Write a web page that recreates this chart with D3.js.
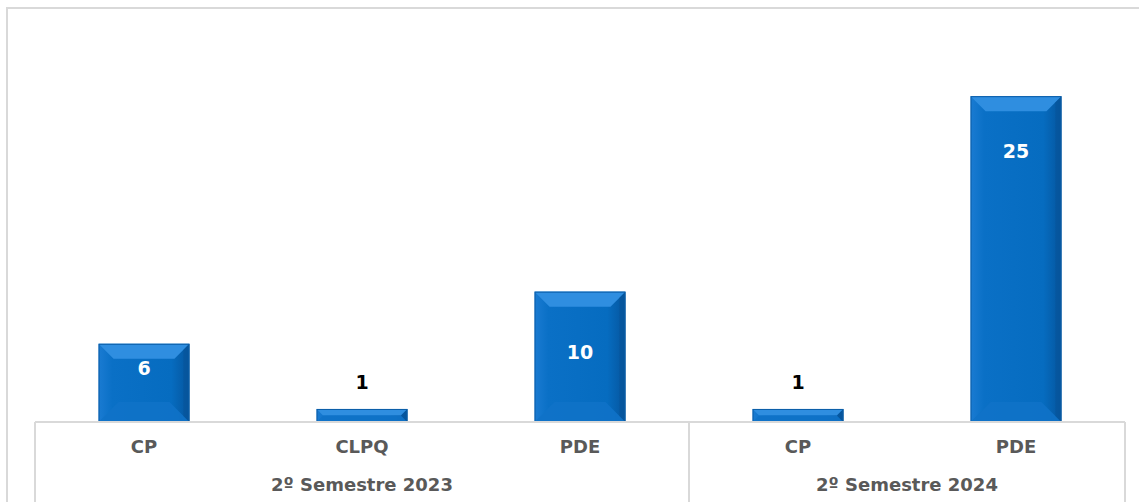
<!DOCTYPE html>
<html>
<head>
<meta charset="utf-8">
<script src="https://cdn.jsdelivr.net/npm/d3@7"></script>
<style>
  html, body { margin: 0; padding: 0; background: #fff; }
  svg { display: block; font-family: "DejaVu Sans", "Open Sans", sans-serif; }
</style>
</head>
<body>
<div id="chart"></div>
<script>
// data
var categories = ["CP", "CLPQ", "PDE", "CP", "PDE"];
var groups = ["2º Semestre 2023", "2º Semestre 2024"];
var values = [6, 1, 10, 1, 25];

var W = 1139, H = 502;
var axisY = 422, left = 35, right = 1125;

var svg = d3.select("#chart").append("svg")
    .attr("width", W)
    .attr("height", H);

var defs = svg.append("defs");
var grad = defs.append("linearGradient").attr("id", "face")
    .attr("x1", "0").attr("x2", "1").attr("y1", "0").attr("y2", "0");
grad.append("stop").attr("offset", "0").attr("stop-color", "#1a7bd2");
grad.append("stop").attr("offset", "0.15").attr("stop-color", "#0a70c6");
grad.append("stop").attr("offset", "0.8").attr("stop-color", "#066cc0");
grad.append("stop").attr("offset", "1").attr("stop-color", "#05559d");

// outer frame (top and left only)
svg.append("path")
    .attr("d", "M7," + H + "V8H" + W)
    .attr("fill", "none")
    .attr("stroke", "#d9d9d9")
    .attr("stroke-width", 2);

var idx = d3.range(categories.length);

var x = d3.scaleBand()
    .domain(idx)
    .range([left, right])
    .paddingInner(0.583)
    .paddingOuter(0.2915);

var y = d3.scaleLinear()
    .domain([0, 30])
    .range([axisY, 31]);

// bars with bevel
var bar = svg.selectAll(".bar")
    .data(idx)
    .enter().append("g")
    .attr("class", "bar");

bar.each(function (i) {
    var g = d3.select(this);
    var x0 = x(i), x1 = x(i) + x.bandwidth();
    var y0 = y(values[i]), y1 = y(0);
    var h = y1 - y0;
    var b = Math.min(15, h / 2);
    var bb = Math.min(20, h / 2);

    g.append("rect")
        .attr("x", x0).attr("y", y0)
        .attr("width", x1 - x0).attr("height", h)
        .attr("fill", "url(#face)");

    // top bevel
    g.append("path")
        .attr("d", "M" + x0 + "," + y0 + "L" + x1 + "," + y0 + "L" + (x1 - b) + "," + (y0 + b) + "L" + (x0 + b) + "," + (y0 + b) + "Z")
        .attr("fill", "#2f8ee0");
    // bottom bevel
    g.append("path")
        .attr("d", "M" + x0 + "," + y1 + "L" + x1 + "," + y1 + "L" + (x1 - bb) + "," + (y1 - bb) + "L" + (x0 + bb) + "," + (y1 - bb) + "Z")
        .attr("fill", "#0f72c8")
        .attr("opacity", 0.9);
    // right side shade
    g.append("path")
        .attr("d", "M" + x1 + "," + y0 + "L" + x1 + "," + y1 + "L" + (x1 - 6) + "," + (y1 - Math.min(6, h / 2)) + "L" + (x1 - 6) + "," + (y0 + Math.min(6, h / 2)) + "Z")
        .attr("fill", "#06549a")
        .attr("opacity", 0.6);

    g.append("rect")
        .attr("x", x0 + 0.5).attr("y", y0 + 0.5)
        .attr("width", x1 - x0 - 1).attr("height", h - 1)
        .attr("fill", "none")
        .attr("stroke", "#0b5ea8")
        .attr("stroke-width", 1);
});

// data labels
svg.selectAll(".val")
    .data(idx)
    .enter().append("text")
    .attr("class", "val")
    .attr("x", function (i) { return x(i) + x.bandwidth() / 2; })
    .attr("y", function (i) {
        var h = y(0) - y(values[i]);
        if (h > 200) return y(values[i]) + 62;
        if (h > 100) return y(values[i]) + 67;
        if (h > 40) return y(values[i]) + 31;
        return y(values[i]) - 20;
    })
    .attr("text-anchor", "middle")
    .style("font-size", "19px")
    .style("font-weight", "bold")
    .style("fill", function (i) { return (y(0) - y(values[i])) > 40 ? "#ffffff" : "#000000"; })
    .text(function (i) { return values[i]; });

// axis lines
svg.append("line")
    .attr("x1", left).attr("x2", right)
    .attr("y1", axisY).attr("y2", axisY)
    .attr("stroke", "#d9d9d9").attr("stroke-width", 2);

var seps = [0, 3, 5].map(function (k) {
    return k === 5 ? right : (k === 0 ? left : x(k) - x.step() * x.paddingInner() / 2);
});
svg.selectAll(".sep")
    .data(seps)
    .enter().append("line")
    .attr("class", "sep")
    .attr("x1", function (d) { return d; })
    .attr("x2", function (d) { return d; })
    .attr("y1", axisY).attr("y2", H)
    .attr("stroke", "#d9d9d9").attr("stroke-width", 2);

// category labels
svg.selectAll(".cat")
    .data(idx)
    .enter().append("text")
    .attr("class", "cat")
    .attr("x", function (i) { return x(i) + x.bandwidth() / 2; })
    .attr("y", 453)
    .attr("text-anchor", "middle")
    .style("font-size", "18px")
    .style("font-weight", "bold")
    .style("fill", "#595959")
    .text(function (i) { return categories[i]; });

// group labels
svg.selectAll(".grp")
    .data(groups)
    .enter().append("text")
    .attr("class", "grp")
    .attr("x", function (d, gi) { return (seps[gi] + seps[gi + 1]) / 2; })
    .attr("y", 491)
    .attr("text-anchor", "middle")
    .style("font-size", "18px")
    .style("font-weight", "bold")
    .style("fill", "#595959")
    .text(function (d) { return d; });
</script>
</body>
</html>
